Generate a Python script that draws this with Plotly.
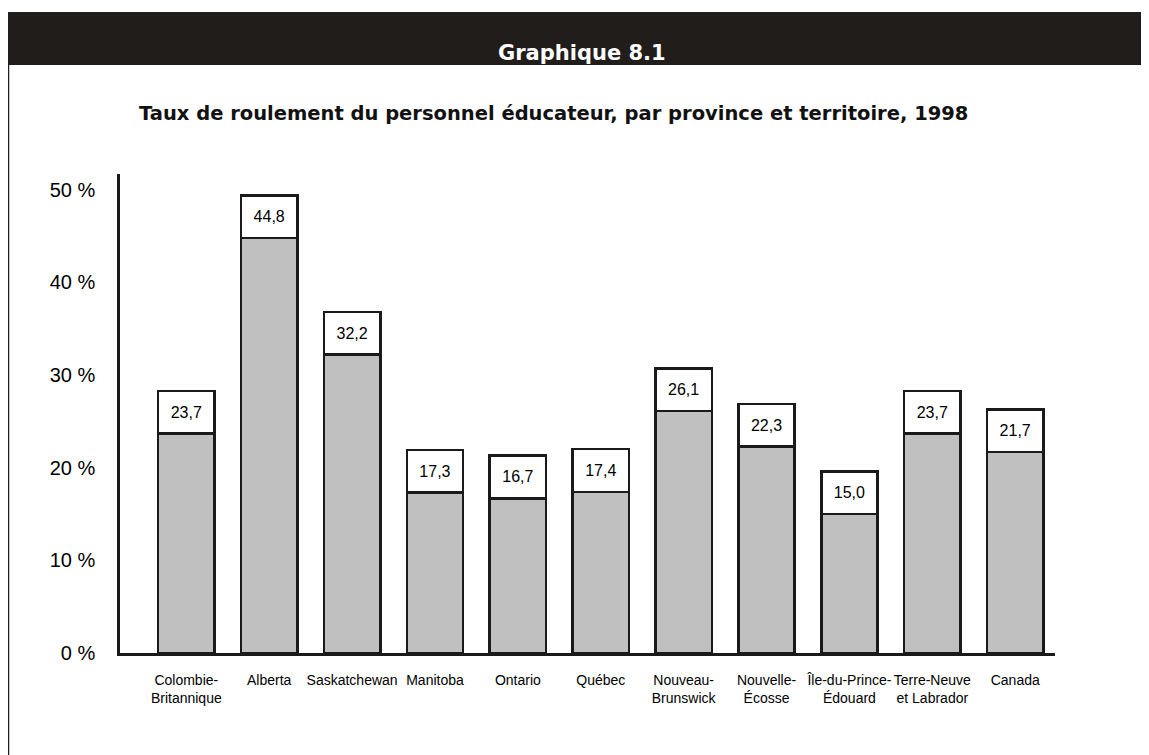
import plotly.graph_objects as go

W, H = 1149, 755
OFF = 8  # the page body adds an 8 px margin around the figure
# plot area, in screen pixels
L, R, T, B = 120, 1055, 174, 653

provinces = ["Colombie-<br>Britannique", "Alberta", "Saskatchewan", "Manitoba", "Ontario",
             "Québec", "Nouveau-<br>Brunswick", "Nouvelle-<br>Écosse", "Île-du-Prince-<br>Édouard",
             "Terre-Neuve<br>et Labrador", "Canada"]
taux = [23.7, 44.8, 32.2, 17.3, 16.7, 17.4, 26.1, 22.3, 15.0, 23.7, 21.7]
y_ticks = [0, 10, 20, 30, 40, 50]
y_ticktext = ["0 %", "10 %", "20 %", "30 %", "40 %", "50 %"]

BOX = 4.6  # height of the white label box, in axis units
NARROW = "Liberation Sans Narrow, Arial Narrow, Liberation Sans, sans-serif"


def px_x(p):
    return (p - L) / (R - L)


def px_y(p):
    return (B - p) / (B - T)


fig = go.Figure()
fig.add_trace(go.Bar(
    x=provinces, y=taux,
    marker=dict(color="#c0c0c0", line=dict(color="#1a1a1a", width=2.5)),
    hoverinfo="skip",
))
fig.add_trace(go.Bar(
    x=provinces, y=[BOX] * len(taux),
    text=[f"{v:.1f}".replace(".", ",") for v in taux],
    textposition="inside", insidetextanchor="middle", textangle=0,
    constraintext="none",
    textfont=dict(family=NARROW, size=16, color="black"),
    marker=dict(color="white", line=dict(color="#1a1a1a", width=2.5)),
    hoverinfo="skip",
))

# black header band and left frame line
fig.add_shape(type="rect", xref="paper", yref="paper",
              x0=px_x(6), x1=px_x(W + 5), y0=px_y(65), y1=px_y(12),
              fillcolor="#211d1b", line=dict(width=0), layer="below")
fig.add_shape(type="line", xref="paper", yref="paper",
              x0=px_x(8), x1=px_x(8), y0=px_y(65), y1=px_y(H + 5),
              line=dict(color="#211d1b", width=2.5))

fig.add_annotation(text="<b>Graphique 8.1</b>", xref="paper", yref="paper",
                   x=px_x(582), y=px_y(39), showarrow=False,
                   font=dict(family="DejaVu Sans", size=21, color="white"))
fig.add_annotation(text="<b>Taux de roulement du personnel éducateur, par province et territoire, 1998</b>",
                   xref="paper", yref="paper", x=px_x(553), y=px_y(100), showarrow=False,
                   font=dict(family="DejaVu Sans", size=19.5, color="#111111"))

fig.update_layout(
    width=W - OFF, height=H - OFF,
    margin=dict(l=L - OFF, r=W - R, t=T - OFF, b=H - B, autoexpand=False),
    barmode="stack", bargap=0.32,
    showlegend=False,
    plot_bgcolor="white", paper_bgcolor="white",
)
fig.update_xaxes(
    type="category", range=[-0.8, 10.48], automargin=False, tickangle=0,
    showline=True, linecolor="#1a1a1a", linewidth=2.5,
    showgrid=False, ticks="", ticklabelstandoff=12,
    tickfont=dict(family=NARROW, size=14, color="black"),
)
fig.update_yaxes(
    range=[0, 51.7], tickvals=y_ticks, ticktext=y_ticktext, automargin=False,
    showline=True, linecolor="#1a1a1a", linewidth=2.5,
    showgrid=False, zeroline=False, ticks="", ticklabelstandoff=18,
    tickfont=dict(family="Liberation Sans", size=20, color="black"),
)

fig.write_html("out.html")
